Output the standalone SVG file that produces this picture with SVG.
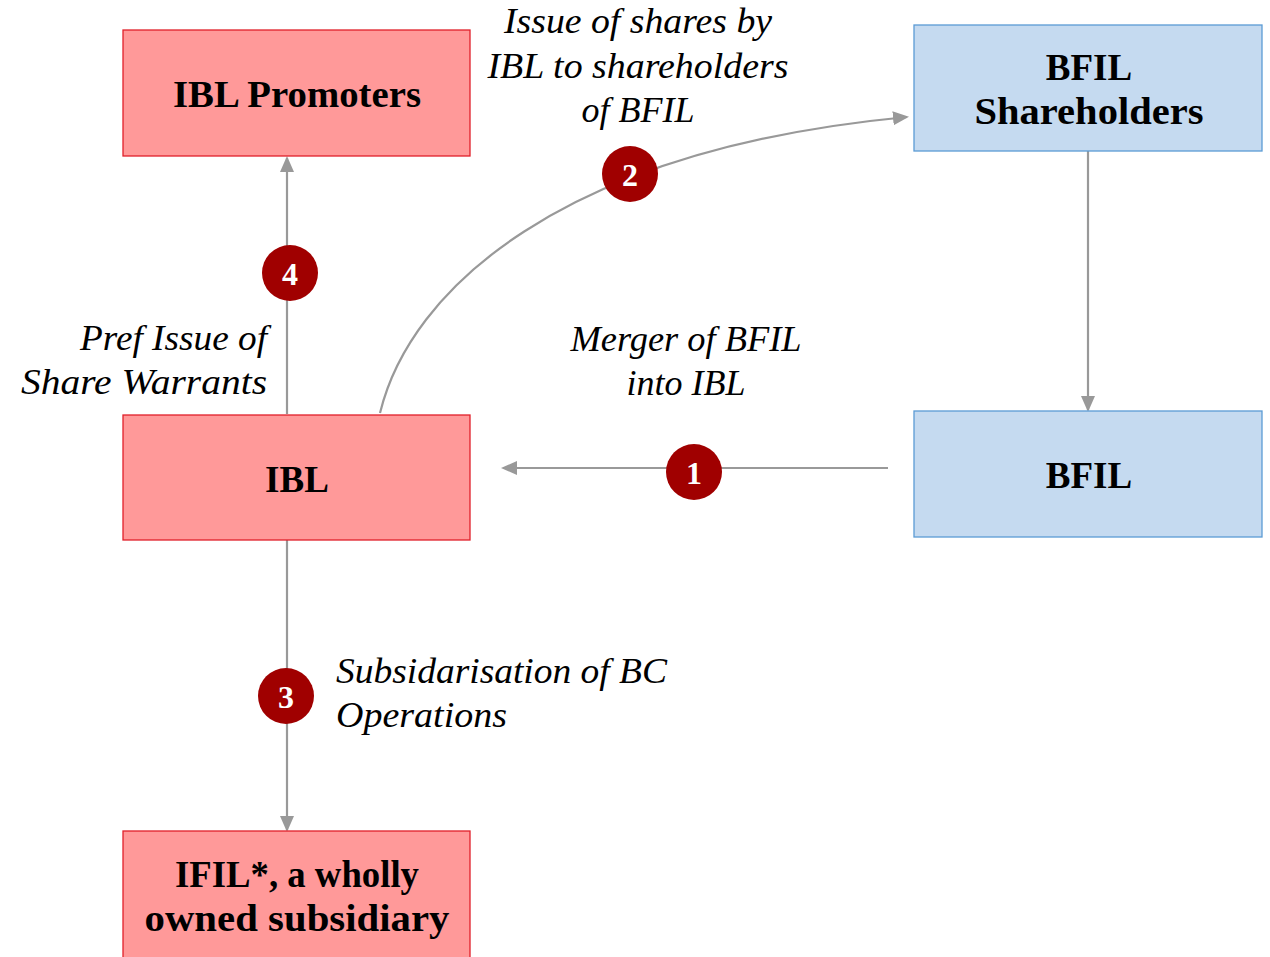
<svg xmlns="http://www.w3.org/2000/svg" width="1270" height="957" viewBox="0 0 1270 957">
<style>
.red{fill:#FF9999;stroke:#E0202A;stroke-width:1.3}
.blue{fill:#C5DAF0;stroke:#5B9BD5;stroke-width:1.3}
.nt{font-family:"Liberation Serif","DejaVu Serif",serif;font-weight:bold;font-size:37px;fill:#000;text-anchor:middle}
.lt{font-family:"Liberation Serif","DejaVu Serif",serif;font-style:italic;font-size:36px;fill:#000}
.con{stroke:#999999;stroke-width:2.2;fill:none}
.badge{fill:#A00000}
.bt{font-family:"Liberation Serif","DejaVu Serif",serif;font-weight:bold;font-size:32px;fill:#fff;text-anchor:middle}
</style>
<defs>
<marker id="ahb" markerWidth="16" markerHeight="16" refX="14" refY="8" orient="auto" markerUnits="userSpaceOnUse" viewBox="0 0 16 16">
<path d="M0,1 L16,8 L0,15 z" fill="#999999"/>
</marker>
</defs>
<rect width="1270" height="957" fill="#fff"/>
<g id="connectors">
<path class="con" d="M287,414 L287,158" marker-end="url(#ahb)"/>
<path class="con" d="M1088,151 L1088,410" marker-end="url(#ahb)"/>
<path class="con" d="M888,468 L503,468" marker-end="url(#ahb)"/>
<path class="con" d="M287,538 L287,830" marker-end="url(#ahb)"/>
<path class="con" d="M380,413 C410,290 560,150 907,117" marker-end="url(#ahb)"/>
</g>
<g id="node-ibl-promoters">
<rect class="red" x="123" y="30" width="347" height="126"/>
<text class="nt" x="297" y="107" textLength="248" lengthAdjust="spacingAndGlyphs">IBL Promoters</text>
</g>
<g id="node-bfil-shareholders">
<rect class="blue" x="914" y="25" width="348" height="126"/>
<text class="nt" x="1089" y="80">BFIL</text>
<text class="nt" x="1089" y="124" textLength="229" lengthAdjust="spacingAndGlyphs">Shareholders</text>
</g>
<g id="node-ibl">
<rect class="red" x="123" y="415" width="347" height="125"/>
<text class="nt" x="297" y="492">IBL</text>
</g>
<g id="node-bfil">
<rect class="blue" x="914" y="411" width="348" height="126"/>
<text class="nt" x="1089" y="488">BFIL</text>
</g>
<g id="node-ifil">
<rect class="red" x="123" y="831" width="347" height="140"/>
<text class="nt" x="297" y="887" textLength="244" lengthAdjust="spacingAndGlyphs">IFIL*, a wholly</text>
<text class="nt" x="297" y="931" textLength="305" lengthAdjust="spacingAndGlyphs">owned subsidiary</text>
</g>
<g id="labels">
<text class="lt" x="638" y="33" text-anchor="middle" textLength="268" lengthAdjust="spacingAndGlyphs">Issue of shares by</text>
<text class="lt" x="638" y="78" text-anchor="middle" textLength="301" lengthAdjust="spacingAndGlyphs">IBL to shareholders</text>
<text class="lt" x="638" y="122" text-anchor="middle">of BFIL</text>
<text class="lt" x="267" y="350" text-anchor="end" textLength="187" lengthAdjust="spacingAndGlyphs">Pref Issue of</text>
<text class="lt" x="267" y="394" text-anchor="end" textLength="246" lengthAdjust="spacingAndGlyphs">Share Warrants</text>
<text class="lt" x="686" y="351" text-anchor="middle" textLength="231" lengthAdjust="spacingAndGlyphs">Merger of BFIL</text>
<text class="lt" x="686" y="395" text-anchor="middle">into IBL</text>
<text class="lt" x="336" y="683" textLength="331" lengthAdjust="spacingAndGlyphs">Subsidarisation of BC</text>
<text class="lt" x="336" y="727" textLength="171" lengthAdjust="spacingAndGlyphs">Operations</text>
</g>
<g id="badges">
<circle class="badge" cx="694" cy="472" r="28"/><text class="bt" x="694" y="484">1</text>
<circle class="badge" cx="630" cy="174" r="28"/><text class="bt" x="630" y="186">2</text>
<circle class="badge" cx="286" cy="696" r="28"/><text class="bt" x="286" y="708">3</text>
<circle class="badge" cx="290" cy="273" r="28"/><text class="bt" x="290" y="285">4</text>
</g>
</svg>
